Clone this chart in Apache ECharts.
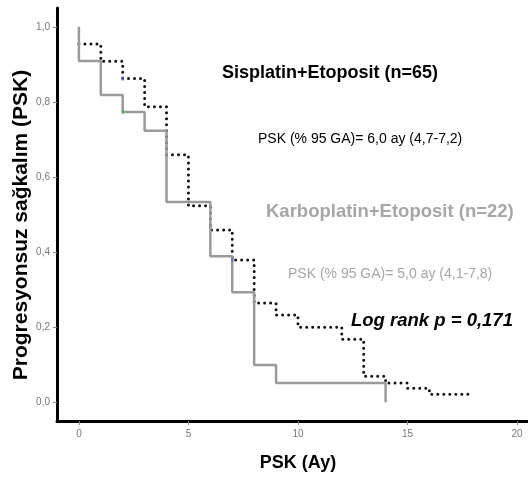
<!DOCTYPE html>
<html>
<head>
    <meta charset="UTF-8" />
    <title>PSK</title>
    <script src="https://cdn.jsdelivr.net/npm/echarts@6/dist/echarts.min.js"></script>
    <style>
        html, body { margin: 0; padding: 0; background: #fff; }
        #chart { width: 528px; height: 479px; }
    </style>
</head>
<body>
    <div id="chart"></div>
    <script type="text/javascript">
        // Sisplatin+Etoposit (dotted) - step points: time, survival
        var sisTime = [0, 1, 2, 3, 4, 5, 6, 7, 8, 9, 10, 12, 13, 14, 15, 16, 17.8];
        var sisSurv = [0.954, 0.908, 0.862, 0.787, 0.659, 0.523, 0.459, 0.379, 0.264, 0.232, 0.200, 0.168, 0.069, 0.051, 0.037, 0.021, 0.021];

        // Karboplatin+Etoposit (gray solid)
        var karTime = [0, 0, 1, 2, 3, 4, 6, 7, 8, 9, 14];
        var karSurv = [1.0, 0.909, 0.818, 0.773, 0.723, 0.533, 0.389, 0.293, 0.099, 0.051, 0.0];

        // censor marks
        var censorBlue = [[2, 0.862], [7, 0.379]];
        var censorGreen = [[2, 0.773]];

        var xTicks = [0, 5, 10, 15, 20];
        var yTicks = [0, 0.2, 0.4, 0.6, 0.8, 1.0];

        var zip = (xs, ys) => xs.map((x, i) => [x, ys[i]]);

        var chart = echarts.init(document.getElementById('chart'));
        var fontName = '"Liberation Sans"';

        var option = {
            animation: false,
            grid: { left: 57, right: -2, top: 8, bottom: 58 },
            xAxis: {
                type: 'value',
                min: -1,
                max: 20.5,
                axisLine: { onZero: false, lineStyle: { color: '#000', width: 3 } },
                axisTick: { customValues: xTicks, length: 4, lineStyle: { color: '#888' } },
                axisLabel: {
                    customValues: xTicks,
                    fontFamily: 'Liberation Sans', fontSize: 10, color: '#777', margin: 8
                },
                splitLine: { show: false }
            },
            yAxis: {
                type: 'value',
                min: -0.05,
                max: 1.05,
                axisLine: { onZero: false, lineStyle: { color: '#000', width: 3 } },
                axisTick: { customValues: yTicks, length: 4, lineStyle: { color: '#888' } },
                axisLabel: {
                    customValues: yTicks,
                    fontFamily: 'Liberation Sans', fontSize: 10, color: '#777', margin: 7,
                    formatter: v => v.toFixed(1).replace('.', ',')
                },
                splitLine: { show: false }
            },
            series: [
                {
                    name: 'Sisplatin+Etoposit',
                    type: 'line',
                    step: 'end',
                    symbol: 'none',
                    data: zip(sisTime, sisSurv),
                    lineStyle: { color: '#111', width: 3, type: [0.01, 6], cap: 'round' },
                    z: 2
                },
                {
                    name: 'Karboplatin+Etoposit',
                    type: 'line',
                    step: 'end',
                    symbol: 'none',
                    data: zip(karTime, karSurv),
                    lineStyle: { color: '#9a9a9a', width: 2.5 },
                    z: 3
                },
                {
                    type: 'scatter',
                    symbol: 'rect',
                    symbolSize: [2, 4],
                    data: censorBlue,
                    itemStyle: { color: '#5566bb' },
                    z: 4
                },
                {
                    type: 'scatter',
                    symbol: 'rect',
                    symbolSize: [2, 4],
                    data: censorGreen,
                    itemStyle: { color: '#33bb44' },
                    z: 4
                }
            ],
            graphic: [
                {
                    type: 'text', x: 21, y: 225, rotation: Math.PI / 2,
                    style: {
                        text: 'Progresyonsuz sağkalım (PSK)', font: 'bold 21px ' + fontName, fill: '#000',
                        align: 'center', verticalAlign: 'middle'
                    }
                },
                {
                    type: 'text', x: 298, y: 463,
                    style: {
                        text: 'PSK (Ay)', font: 'bold 18px ' + fontName, fill: '#000',
                        align: 'center', verticalAlign: 'middle'
                    }
                },
                {
                    type: 'text', x: 222, y: 73,
                    style: { text: 'Sisplatin+Etoposit (n=65)', font: 'bold 18px ' + fontName, fill: '#000', verticalAlign: 'middle' }
                },
                {
                    type: 'text', x: 258, y: 139,
                    style: { text: 'PSK (% 95 GA)= 6,0 ay (4,7-7,2)', font: '14px ' + fontName, fill: '#000', verticalAlign: 'middle' }
                },
                {
                    type: 'text', x: 266, y: 212,
                    style: { text: 'Karboplatin+Etoposit (n=22)', font: 'bold 18.5px ' + fontName, fill: '#a6a6a6', verticalAlign: 'middle' }
                },
                {
                    type: 'text', x: 288, y: 274,
                    style: { text: 'PSK (% 95 GA)= 5,0 ay (4,1-7,8)', font: '14px ' + fontName, fill: '#a6a6a6', verticalAlign: 'middle' }
                },
                {
                    type: 'text', x: 351, y: 321,
                    style: { text: 'Log rank p = 0,171', font: 'italic bold 18.5px ' + fontName, fill: '#000', verticalAlign: 'middle' }
                }
            ]
        };
        chart.setOption(option);
    </script>
</body>
</html>
